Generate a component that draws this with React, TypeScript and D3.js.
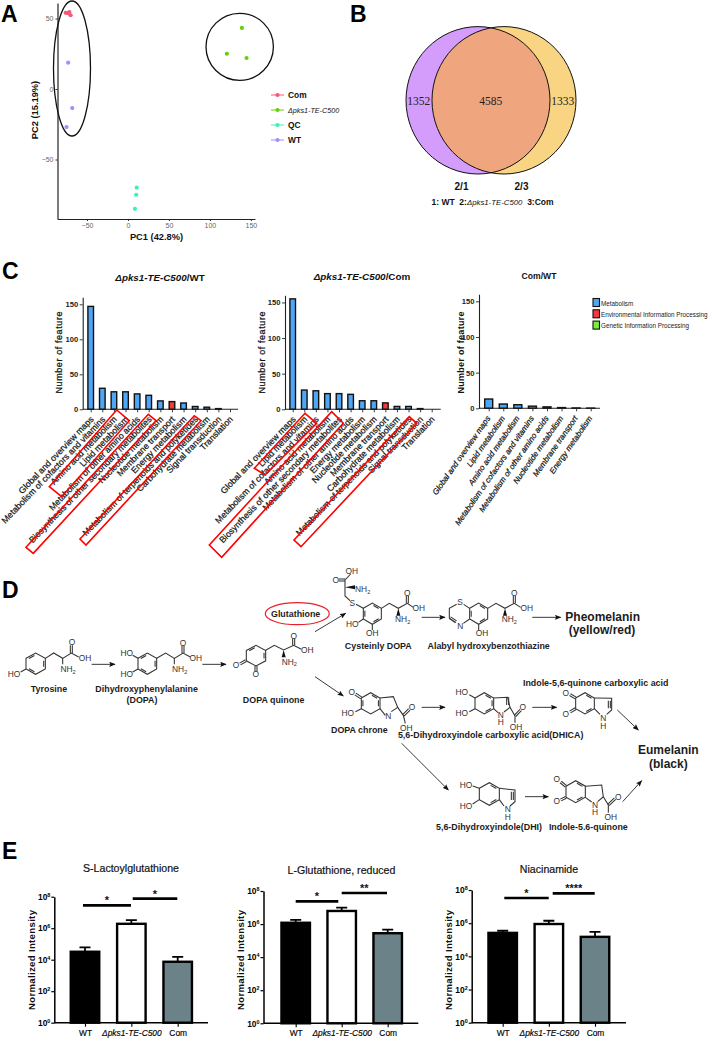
import React, { useEffect, useRef } from 'react';
import * as d3 from 'd3';

const SANS = '"Liberation Sans", Arial, sans-serif';
const SERIF = '"Liberation Serif", serif';
const MUTANT = 'Δpks1-TE-C500';

// panel A
const comPC1 = [-76, -71.5, -70, -73];
const comPC2 = [54, 54.6, 52.3, 53.8];
const mutPC1 = [139, 120.7, 144.7];
const mutPC2 = [43.3, 25, 22];
const qcPC1 = [10.6, 10, 8.5];
const qcPC2 = [-70, -75, -85];
const wtPC1 = [-73, -68, -75];
const wtPC2 = [18.7, -13.5, -27];
const pcaGroups = ['Com', MUTANT, 'QC', 'WT'];
const pcaColors = ['#F9567A', '#69CF0C', '#3CF2AC', '#A88CFB'];

// panel B
const vennCounts = [1352, 4585, 1333];

// panel C
const labels1 = ['Global and overview maps', 'Metabolism of cofactors and vitamins', 'Amino acid metabolism', 'Lipid metabolism', 'Metabolism of other amino acids', 'Biosynthesis of other secondary metabolites', 'Nucleotide metabolism', 'Membrane transport', 'Energy metabolism', 'Metabolism of terpenoids and polyketides', 'Carbohydrate metabolism', 'Signal transduction', 'Translation'];
const values1 = [147, 30, 25, 25, 22, 20, 12, 11, 9, 4, 3, 1, 0];
const labels2 = ['Global and overview maps', 'Lipid metabolism', 'Metabolism of cofactors and vitamins', 'Amino acid metabolism', 'Biosynthesis of other secondary metabolites', 'Metabolism of other amino acids', 'Energy metabolism', 'Nucleotide metabolism', 'Membrane transport', 'Carbohydrate metabolism', 'Metabolism of terpenoids and polyketides', 'Signal transduction', 'Translation'];
const values2 = [155, 27, 26, 22, 22, 21, 12, 12, 9, 4, 4, 1, 0];
const labels3 = ['Global and overview maps', 'Lipid metabolism', 'Amino acid metabolism', 'Metabolism of cofactors and vitamins', 'Metabolism of other amino acids', 'Nucleotide metabolism', 'Membrane transport', 'Energy metabolism'];
const values3 = [13, 6, 5, 3, 2, 1, 0.5, 0.3];
const keggClasses = ['Metabolism', 'Environmental Information Processing', 'Genetic Information Processing'];
const keggColors = ['#4FA6F5', '#F43A3A', '#76EE3A'];

// red boxes round the highlighted pathway labels
const boxes1 = [
  [[49.3, 486.7], [116.7, 410], [129.3, 420.7], [61.7, 496.7]],
  [[26, 547.3], [148.3, 414.3], [156, 420.7], [33.3, 553.3]],
  [[80, 539], [194.3, 415.7], [201, 420.7], [86, 545]],
];
const boxes2 = [
  [[254.3, 468.3], [305, 413.3], [316.7, 423.3], [265, 475]],
  [[209.3, 545], [331.7, 411.7], [343.3, 423.3], [221.7, 557.3]],
  [[294, 540], [409.3, 416.7], [416.7, 423.3], [301, 546.7]],
];

// panel E
const strains = ['WT', MUTANT, 'Com'];
const strainFill = ['#000', '#fff', '#6B8288'];
const lactoyl = [3.2e4, 1.9e6, 7.4e3];
const lactoylErr = [6e4, 3.3e6, 1.5e4];
const glutathione = [1.2e6, 6.2e6, 2.8e5];
const glutathioneErr = [1.8e6, 1e7, 4.6e5];
const niacinamide = [2.6e5, 8.9e5, 1.5e5];
const niacinamideErr = [3.5e5, 1.4e6, 3e5];

// panel D, structure drawings, in 3x crop units from the two origins
const hex = (cx: number, cy: number, w: number, h: number) => [
  [cx - w, cy - h / 2], [cx, cy - h], [cx + w, cy - h / 2], [cx + w, cy + h / 2], [cx, cy + h], [cx - w, cy + h / 2],
];
const O1 = [0, 570];
const O2 = [330, 570];
const molecules: any[] = [
  { o: O1, ring: hex(107, 281, 29, 32), dbl: [0, 2, 4],
    bonds: [[78, 297, 62, 306], [136, 265, 161, 249, 188, 265, 214, 249, 236, 261], [188, 265, 188, 283]],
    doubles: [[214, 249, 214, 226]],
    labels: [['HO', 42, 312], ['NH2', 204, 297], ['O', 216, 217], ['OH', 255, 264]] },
  { o: O1, ring: hex(442, 281, 28, 32), dbl: [0, 2, 4],
    bonds: [[414, 265, 398, 256], [414, 297, 398, 306], [470, 265, 497, 249, 523, 265, 549, 249, 571, 261], [523, 265, 523, 283]],
    doubles: [[549, 249, 549, 227]],
    labels: [['HO', 380, 250], ['HO', 380, 312], ['NH2', 539, 297], ['O', 549, 219], ['OH', 587, 264]] },
  { o: O1, ring: hex(768, 257, 29, 31), dbl: [0, 2],
    bonds: [[797, 241, 823, 226, 851, 240, 881, 226, 904, 238]],
    doubles: [[881, 226, 881, 206], [738, 272, 720, 282], [768, 288, 768, 304]],
    wedges: [[851, 240, 851, 262]],
    labels: [['O', 708, 285], ['O', 767, 313], ['NH2', 868, 275], ['O', 881, 198], ['OH', 922, 241]] },
  { o: O2, ring: hex(127, 131, 27, 32), dbl: [1, 3, 5],
    bonds: [[100, 115, 78, 103], [60, 92, 45, 78, 45, 62, 45, 30, 62, 12], [154, 115, 178, 100, 205, 115, 232, 100, 250, 112], [100, 147, 85, 157], [127, 163, 127, 180]],
    doubles: [[232, 100, 232, 78], [45, 30, 26, 30]],
    wedges: [[205, 115, 205, 137], [45, 52, 75, 52]],
    labels: [['S', 67, 100], ['NH2', 98, 57], ['O', 17, 30], ['OH', 65, 2], ['NH2', 218, 148], ['O', 232, 69], ['OH', 266, 115], ['HO', 67, 162], ['OH', 127, 190]] },
  { o: O2, ring: hex(446, 131, 27, 32), dbl: [1, 3, 5],
    bonds: [[419, 115, 401, 103], [380, 103, 358, 115, 358, 145, 378, 158], [400, 160, 419, 147], [473, 115, 498, 100, 525, 115, 553, 100, 572, 112], [446, 163, 446, 180]],
    doubles: [[553, 100, 553, 78], [360, 143, 378, 155]],
    wedges: [[525, 115, 525, 137]],
    labels: [['S', 390, 95], ['N', 391, 168], ['OH', 456, 190], ['NH2', 538, 147], ['O', 553, 69], ['OH', 590, 115]] },
  { o: O2, ring: hex(122, 400, 28, 32), dbl: [1, 2, 5],
    bonds: [[150, 384, 190, 380, 203, 412, 184, 425], [166, 436, 150, 416], [94, 416, 76, 425], [203, 412, 220, 436, 226, 460]],
    doubles: [[94, 384, 76, 372], [220, 436, 238, 418]],
    labels: [['O', 65, 365], ['HO', 53, 428], ['N', 175, 438], ['O', 246, 412], ['OH', 229, 473]] },
  { o: O2, ring: hex(463, 400, 28, 32), dbl: [1, 3, 2],
    bonds: [[435, 384, 418, 374], [435, 416, 418, 425], [491, 384, 533, 382, 540, 412, 522, 426], [504, 428, 491, 416], [540, 412, 555, 438, 555, 458]],
    doubles: [[533, 382, 533, 405], [555, 438, 572, 420]],
    labels: [['HO', 395, 365], ['HO', 395, 428], ['N', 512, 434], ['H', 512, 455], ['O', 578, 410], ['OH', 558, 470]] },
  { o: O2, ring: hex(765, 400, 28, 32), dbl: [1, 3],
    bonds: [[793, 384, 845, 385, 845, 420, 830, 433], [810, 433, 793, 416]],
    doubles: [[737, 384, 720, 374], [737, 416, 720, 426], [838, 392, 838, 415]],
    labels: [['O', 707, 368], ['O', 707, 432], ['N', 820, 445], ['H', 820, 467]] },
  { o: O2, ring: hex(478, 672, 30, 34), dbl: [1, 3],
    bonds: [[448, 655, 428, 648], [448, 689, 428, 702], [508, 655, 555, 660, 555, 695, 540, 708], [522, 708, 508, 689]],
    doubles: [[547, 665, 547, 690]],
    labels: [['HO', 408, 645], ['HO', 408, 708], ['N', 533, 718], ['H', 533, 740]] },
  { o: O2, ring: hex(737, 665, 29, 33), dbl: [1, 3],
    bonds: [[766, 649, 815, 645, 820, 680, 803, 695], [785, 696, 766, 682], [820, 680, 835, 705, 835, 728]],
    doubles: [[708, 649, 692, 636], [708, 682, 692, 690], [835, 705, 855, 686]],
    labels: [['O', 680, 628], ['O', 680, 693], ['N', 795, 706], ['H', 795, 727], ['O', 865, 680], ['OH', 842, 742]] },
];
const pathArrows: any[] = [
  [O1, 275, 283, 345, 283], [O1, 607, 283, 678, 283], [O1, 945, 185, 1037, 130], [O1, 945, 320, 1030, 378],
  [O2, 275, 142, 345, 142], [O2, 607, 142, 692, 142], [O2, 275, 412, 345, 412], [O2, 607, 412, 680, 412],
  [O2, 215, 520, 355, 660], [O2, 862, 420, 925, 480], [O2, 585, 680, 655, 680], [O2, 878, 695, 935, 632],
];
const pathNames: any[] = [
  [O1, 'Tyrosine', 147, 366, 8.9], [O1, 'Dihydroxyphenylalanine', 440, 366, 8.9], [O1, '(DOPA)', 426, 399, 8.9],
  [O1, 'DOPA quinone', 821, 398, 8.9], [O1, 'Glutathione', 887, 142, 8.9],
  [O2, 'Cysteinly DOPA', 145, 238, 8.9], [O2, 'Alabyl hydroxybenzothiazine', 476, 238, 8.9],
  [O2, 'Pheomelanin', 818, 153, 12], [O2, '(yellow/red)', 816, 191, 12],
  [O2, 'Indole-5,6-quinone carboxylic acid', 797, 348, 8.9], [O2, 'DOPA chrone', 88, 488, 8.9],
  [O2, '5,6-Dihydroxyindole carboxylic acid(DHICA)', 482, 503, 8.9],
  [O2, 'Eumelanin', 1015, 553, 12], [O2, '(black)', 1015, 593, 12],
  [O2, '5,6-Dihydroxyindole(DHI)', 477, 781, 8.9], [O2, 'Indole-5.6-quinone', 775, 781, 8.9],
];

function text(g: any, x: number, y: number, s: string, size: number, opts: any = {}) {
  return g.append('text')
    .attr('x', x).attr('y', y)
    .attr('font-family', opts.family || SANS)
    .attr('font-size', size)
    .attr('font-weight', opts.weight || 'normal')
    .attr('font-style', opts.italic ? 'italic' : 'normal')
    .attr('text-anchor', opts.anchor || 'middle')
    .attr('fill', opts.fill || '#111')
    .text(s);
}

function styleAxis(g: any, width: number, size: number, color = '#222') {
  g.selectAll('path.domain').attr('stroke', color).attr('stroke-width', width);
  g.selectAll('.tick line').attr('stroke', color).attr('stroke-width', width * 0.8);
  g.selectAll('.tick text').attr('font-family', SANS).attr('font-size', size).attr('fill', color);
}

function drawPCA(svg: any) {
  const g = svg.append('g');
  const x = d3.scaleLinear().domain([-86, 155]).range([57.5, 255]);
  const y = d3.scaleLinear().domain([-92.2, 61]).range([219, 3]);
  const ax = g.append('g').attr('transform', 'translate(0,219)')
    .call(d3.axisBottom(x).tickValues([-50, 0, 50, 100, 150]).tickSize(2).tickPadding(2).tickSizeOuter(0));
  styleAxis(ax, 1.2, 7);
  const ay = g.append('g').attr('transform', 'translate(57.5,0)')
    .call(d3.axisLeft(y).tickValues([-50, 0, 50]).tickSize(2).tickPadding(2).tickSizeOuter(0));
  styleAxis(ay, 1.2, 7);
  ax.selectAll('.tick text').attr('fill', '#666');
  ay.selectAll('.tick text').attr('fill', '#666');
  text(g, 156.5, 240, 'PC1 (42.8%)', 9.3, { weight: 'bold' });
  text(g, 0, 0, 'PC2 (15.19%)', 9.3, { weight: 'bold' }).attr('transform', 'translate(38,110) rotate(-90)');

  const sets = [[comPC1, comPC2], [mutPC1, mutPC2], [qcPC1, qcPC2], [wtPC1, wtPC2]];
  sets.forEach(([xs, ys], k) => {
    g.selectAll(null).data(xs).enter().append('circle')
      .attr('cx', (d: number) => x(d))
      .attr('cy', (_: number, i: number) => y(ys[i]))
      .attr('r', 2.1)
      .attr('fill', pcaColors[k]);
    const ly = 95 + k * 15;
    g.append('line').attr('x1', 271).attr('x2', 284).attr('y1', ly).attr('y2', ly).attr('stroke', pcaColors[k]).attr('stroke-width', 1);
    g.append('circle').attr('cx', 277.5).attr('cy', ly).attr('r', 2.1).attr('fill', pcaColors[k]);
    const mut = pcaGroups[k] === MUTANT;
    text(g, 288, ly + 3, pcaGroups[k], mut ? 7.2 : 8.4, { anchor: 'start', weight: mut ? 'normal' : 'bold', italic: mut });
  });
  g.append('ellipse').attr('cx', 72).attr('cy', 68.5).attr('rx', 18.5).attr('ry', 67.5)
    .attr('fill', 'none').attr('stroke', '#111').attr('stroke-width', 1.3);
  g.append('ellipse').attr('cx', 239.7).attr('cy', 46.8).attr('rx', 33.7).attr('ry', 33.5)
    .attr('fill', 'none').attr('stroke', '#111').attr('stroke-width', 1.3);
}

function drawVenn(svg: any) {
  const g = svg.append('g');
  const defs = g.append('defs');
  defs.append('clipPath').attr('id', 'vennLeft').append('ellipse')
    .attr('cx', 478).attr('cy', 100.3).attr('rx', 72).attr('ry', 73.7);
  g.append('ellipse').attr('cx', 478).attr('cy', 100.3).attr('rx', 72).attr('ry', 73.7).attr('fill', '#D49CFB');
  g.append('ellipse').attr('cx', 504).attr('cy', 100.3).attr('rx', 72).attr('ry', 73.7).attr('fill', '#F9D583');
  g.append('ellipse').attr('cx', 504).attr('cy', 100.3).attr('rx', 72).attr('ry', 73.7)
    .attr('fill', '#EFA67F').attr('clip-path', 'url(#vennLeft)');
  [478, 504].forEach(cx => {
    g.append('ellipse').attr('cx', cx).attr('cy', 100.3).attr('rx', 72).attr('ry', 73.7)
      .attr('fill', 'none').attr('stroke', '#111').attr('stroke-width', 1);
  });
  [418.7, 490.7, 562.7].forEach((x, i) => {
    text(g, x, 105, String(vennCounts[i]), 11.5, { family: SERIF, fill: '#222' });
  });
  text(g, 461.5, 190, '2/1', 10, { weight: 'bold' });
  text(g, 521.5, 190, '2/3', 10, { weight: 'bold' });
  const t = text(g, 431.5, 205, '1: WT  2:', 8.5, { anchor: 'start', weight: 'bold' }).attr('xml:space', 'preserve');
  t.append('tspan').attr('font-style', 'italic').attr('font-weight', 'normal').attr('font-size', 7.8).text(MUTANT);
  t.append('tspan').text('  3:Com');
}

function drawFeatureBars(svg: any, o: any) {
  const g = svg.append('g');
  const x = d3.scalePoint().domain(o.labels).range(o.xRange);
  const y = d3.scaleLinear().domain([0, o.yMax]).range([o.base, o.top]);

  g.selectAll(null).data(o.values).enter().append('rect')
    .attr('x', (_: number, i: number) => x(o.labels[i])! - o.barW / 2)
    .attr('y', (d: number) => y(d))
    .attr('width', o.barW)
    .attr('height', (d: number) => o.base - y(d))
    .attr('fill', (_: number, i: number) => keggColors[o.labels[i] === 'Membrane transport' && !o.noRed ? 1 : 0])
    .attr('stroke', '#111')
    .attr('stroke-width', 1.4);

  const ax = g.append('g').attr('transform', `translate(0,${o.base})`)
    .call(d3.axisBottom(x).tickSize(3).tickFormat(() => '').tickSizeOuter(0));
  ax.select('path.domain').attr('d', `M${o.yAxisX},0H${o.xEnd}`);
  styleAxis(ax, 1.1, 7);
  const ay = g.append('g').attr('transform', `translate(${o.yAxisX},0)`)
    .call(d3.axisLeft(y).tickValues([0, 50, 100, 150]).tickSize(3).tickPadding(1.5).tickSizeOuter(0));
  styleAxis(ay, 1.1, 7.6);
  ay.selectAll('.tick text').attr('font-weight', 'bold');

  o.labels.forEach((l: string) => {
    text(g, 0, 0, l, o.labelSize, { anchor: 'end', italic: o.labelItalic })
      .attr('transform', `translate(${x(l)! + o.labelDx},${o.base + o.labelDy}) rotate(${o.angle})`)
      .attr('stroke', '#111').attr('stroke-width', 0.22);
  });
  (o.boxes || []).forEach((b: number[][]) => {
    g.append('path').attr('d', d3.line()(b as any) + 'Z')
      .attr('fill', 'none').attr('stroke', '#F00').attr('stroke-width', 1.6);
  });
  text(g, 0, 0, 'Number of feature', 9, { weight: o.yLabelBold ? 'bold' : 'normal' })
    .attr('transform', `translate(${o.yLabelX},352.5) rotate(-90)`)
    .attr('textLength', 82)
    .attr('stroke', '#111').attr('stroke-width', o.yLabelBold ? 0 : 0.25);
  const t = text(g, o.titleX, o.titleY, o.mutantTitle ? MUTANT : o.title, o.titleSize, { weight: 'bold', italic: o.mutantTitle });
  if (o.mutantTitle) t.append('tspan').attr('font-style', 'normal').text(o.title);
}

function drawKeggLegend(svg: any) {
  const g = svg.append('g');
  keggClasses.forEach((c, i) => {
    const y = 298.5 + i * 11.3;
    g.append('rect').attr('x', 593).attr('y', y).attr('width', 6.5).attr('height', 8)
      .attr('fill', keggColors[i]).attr('stroke', '#111').attr('stroke-width', 1.1);
    // the reference squeezes these labels sideways
    text(g, 0, 0, c, 8, { anchor: 'start', fill: '#222' })
      .attr('transform', `translate(601,${y + 7}) scale(0.79,1)`);
  });
}

function drawMolecule(g: any, m: any) {
  const [ox, oy] = m.o;
  const mg = g.append('g').attr('transform', `translate(${ox},${oy}) scale(${1 / 3})`)
    .attr('fill', 'none').attr('stroke', '#333').attr('stroke-width', 3.2);
  const ring = m.ring;
  const cx = d3.mean(ring, (p: number[]) => p[0])!;
  const cy = d3.mean(ring, (p: number[]) => p[1])!;
  mg.append('path').attr('d', d3.line()(ring) + 'Z');
  (m.dbl || []).forEach((e: number) => {
    const a = ring[e];
    const b = ring[(e + 1) % 6];
    const k = 0.17;
    const s = 0.16;
    const p = [a[0] + (cx - a[0]) * k, a[1] + (cy - a[1]) * k];
    const q = [b[0] + (cx - b[0]) * k, b[1] + (cy - b[1]) * k];
    mg.append('line')
      .attr('x1', p[0] + (q[0] - p[0]) * s).attr('y1', p[1] + (q[1] - p[1]) * s)
      .attr('x2', q[0] - (q[0] - p[0]) * s).attr('y2', q[1] - (q[1] - p[1]) * s);
  });
  (m.bonds || []).forEach((b: number[]) => {
    const pts = d3.range(0, b.length, 2).map(i => [b[i], b[i + 1]]);
    mg.append('path').attr('d', d3.line()(pts as any));
  });
  (m.doubles || []).forEach((b: number[]) => {
    const dx = b[2] - b[0];
    const dy = b[3] - b[1];
    const len = Math.hypot(dx, dy);
    const nx = (-dy / len) * 3;
    const ny = (dx / len) * 3;
    [1, -1].forEach(sign => {
      mg.append('line')
        .attr('x1', b[0] + sign * nx).attr('y1', b[1] + sign * ny)
        .attr('x2', b[2] + sign * nx).attr('y2', b[3] + sign * ny);
    });
  });
  (m.wedges || []).forEach((b: number[]) => {
    const dx = b[2] - b[0];
    const dy = b[3] - b[1];
    const len = Math.hypot(dx, dy);
    const nx = (-dy / len) * 6;
    const ny = (dx / len) * 6;
    mg.append('path')
      .attr('d', `M${b[0]},${b[1]}L${b[2] + nx},${b[3] + ny}L${b[2] - nx},${b[3] - ny}Z`)
      .attr('fill', '#111').attr('stroke', 'none');
  });
  (m.labels || []).forEach((l: any[]) => {
    const sub = l[0] === 'NH2';
    const t = text(g, ox + l[1] / 3, oy + l[2] / 3 + 3, sub ? 'NH' : l[0], 8.4, { fill: '#333' });
    if (sub) t.append('tspan').attr('dy', 1.6).attr('font-size', 5.6).text('2');
  });
}

function drawPathway(svg: any) {
  const g = svg.append('g');
  const defs = g.append('defs');
  defs.append('marker').attr('id', 'arrowHead').attr('viewBox', '0 0 10 8').attr('refX', 9).attr('refY', 4)
    .attr('markerWidth', 6.5).attr('markerHeight', 5.5).attr('markerUnits', 'userSpaceOnUse').attr('orient', 'auto')
    .append('path').attr('d', 'M0,0L10,4L0,8L2,4Z').attr('fill', '#111');
  molecules.forEach(m => drawMolecule(g, m));
  pathArrows.forEach(([o, x1, y1, x2, y2]) => {
    g.append('line')
      .attr('x1', o[0] + x1 / 3).attr('y1', o[1] + y1 / 3)
      .attr('x2', o[0] + x2 / 3).attr('y2', o[1] + y2 / 3)
      .attr('stroke', '#222').attr('stroke-width', 0.9).attr('marker-end', 'url(#arrowHead)');
  });
  g.append('ellipse').attr('cx', 297.3).attr('cy', 613.7).attr('rx', 32).attr('ry', 11)
    .attr('fill', 'none').attr('stroke', '#E8202A').attr('stroke-width', 1.2);
  pathNames.forEach(([o, s, x, y, size]) => {
    text(g, o[0] + x / 3, o[1] + y / 3, s, size, { weight: 'bold', fill: '#1c1c1c' });
  });
}

function drawIntensity(svg: any, o: any) {
  const g = svg.append('g');
  const x = d3.scalePoint().domain(strains).range(o.xRange);
  const y = d3.scaleLog().domain([1, 1e8]).range([o.base, o.top]);
  const w = 28.5;

  g.selectAll(null).data(o.errs).enter().append('path')
    .attr('d', (d: number, i: number) => {
      const c = x(strains[i])!;
      return `M${c},${y(o.values[i])}V${y(d)}M${c - 5.5},${y(d)}H${c + 5.5}`;
    })
    .attr('fill', 'none').attr('stroke', '#000').attr('stroke-width', 1.8);
  g.selectAll(null).data(o.values).enter().append('rect')
    .attr('x', (_: number, i: number) => x(strains[i])! - w / 2)
    .attr('y', (d: number) => y(d))
    .attr('width', w)
    .attr('height', (d: number) => o.base - y(d))
    .attr('fill', (_: number, i: number) => strainFill[i])
    .attr('stroke', '#000').attr('stroke-width', 2.4);

  const ax = g.append('g').attr('transform', `translate(0,${o.base})`)
    .call(d3.axisBottom(x).tickSize(4).tickPadding(3).tickSizeOuter(0));
  ax.select('path.domain').attr('d', `M${o.axisX},0H${o.xEnd}`);
  styleAxis(ax, 1.4, 8.4, '#000');
  ax.selectAll('.tick text').attr('font-style', (d: string) => (d === MUTANT ? 'italic' : 'normal'))
    .attr('stroke', '#000').attr('stroke-width', 0.15);
  const ay = g.append('g').attr('transform', `translate(${o.axisX},0)`)
    .call(d3.axisLeft(y).tickValues([1, 1e2, 1e4, 1e6, 1e8]).tickSize(3).tickPadding(1).tickFormat(() => '').tickSizeOuter(0));
  styleAxis(ay, 1.5, 8.4, '#000');
  ay.selectAll('.tick text').each(function (this: any, d: any) {
    const t = d3.select(this).attr('font-weight', 'bold');
    t.append('tspan').text('10');
    t.append('tspan').attr('dy', -3).attr('font-size', 5.4).text(String(Math.round(Math.log10(d))));
  });

  text(g, 0, 0, 'Normalized Intensity', 9.6, { weight: 'bold' })
    .attr('transform', `translate(${o.yLabelX},960) rotate(-90)`)
    .attr('textLength', 100);
  text(g, o.titleX, o.titleY, o.title, 10.6, { fill: '#111' }).attr('stroke', '#111').attr('stroke-width', 0.2);
  o.sig.forEach((s: any[]) => {
    g.append('line').attr('x1', s[0]).attr('x2', s[1]).attr('y1', s[2]).attr('y2', s[2])
      .attr('stroke', '#000').attr('stroke-width', 2.7);
    text(g, (s[0] + s[1]) / 2, s[2] - 1, s[3], 11, { weight: 'bold' });
  });
}

export default function App() {
  const ref = useRef<SVGSVGElement>(null);

  useEffect(() => {
    const svg = d3.select(ref.current);
    svg.selectAll('*').remove();

    [['A', 1, 22], ['B', 350, 22], ['C', 2, 279], ['D', 2, 598], ['E', 2, 859]].forEach(([s, x, y]) => {
      text(svg, x as number, y as number, s as string, 23, { anchor: 'start', weight: 'bold', fill: '#000' });
    });

    drawPCA(svg);
    drawVenn(svg);

    drawFeatureBars(svg, {
      labels: labels1, values: values1, xRange: [90.7, 230], base: 409.3, top: 297.3, yMax: 160,
      yAxisX: 82.7, xEnd: 238, barW: 5.6, labelSize: 8.8, labelDx: 3.5, labelDy: 10.5, angle: -46, boxes: boxes1,
      yLabelX: 62, titleX: 160, titleY: 281, titleSize: 9.8, mutantTitle: true, title: '/WT',
    });
    drawFeatureBars(svg, {
      labels: labels2, values: values2, xRange: [292.7, 431.7], base: 409.3, top: 295.3, yMax: 160,
      yAxisX: 285, xEnd: 440.7, barW: 5.6, labelSize: 8.8, labelDx: 3.5, labelDy: 10.5, angle: -46, boxes: boxes2,
      yLabelX: 265, titleX: 362, titleY: 279.5, titleSize: 9.9, mutantTitle: true, title: '/Com',
    });
    drawFeatureBars(svg, {
      labels: labels3, values: values3, xRange: [488.7, 590.7], base: 408.3, top: 294.2, yMax: 160,
      yAxisX: 479, xEnd: 600, barW: 8, labelSize: 8, labelDx: 2, labelDy: 10, labelItalic: true, angle: -55, noRed: true,
      yLabelX: 464, yLabelBold: true, titleX: 539, titleY: 279, titleSize: 8.6, title: 'Com/WT',
    });
    drawKeggLegend(svg);

    drawPathway(svg);

    drawIntensity(svg, {
      values: lactoyl, errs: lactoylErr, xRange: [85, 177.7], base: 1022.7, top: 896.7, axisX: 54.3, xEnd: 208,
      yLabelX: 35, title: 'S-Lactoylglutathione', titleX: 131, titleY: 872,
      sig: [[83, 131, 905.3, '*'], [132.7, 177.3, 898.7, '*']],
    });
    drawIntensity(svg, {
      values: glutathione, errs: glutathioneErr, xRange: [295.7, 387.7], base: 1023.3, top: 891, axisX: 263.5, xEnd: 418.3,
      yLabelX: 244, title: 'L-Glutathione, reduced', titleX: 341.5, titleY: 874,
      sig: [[295.7, 338.3, 901.3, '*'], [341.7, 387, 893, '**']],
    });
    drawIntensity(svg, {
      values: niacinamide, errs: niacinamideErr, xRange: [502.7, 595], base: 1022.7, top: 890, axisX: 471.7, xEnd: 626,
      yLabelX: 452, title: 'Niacinamide', titleX: 549, titleY: 873,
      sig: [[504.3, 548.7, 898, '*'], [552.7, 594.7, 893.3, '****']],
    });
  }, []);

  return (
    <svg ref={ref} width={712} height={1043} style={{ position: 'absolute', left: 0, top: 0, background: '#fff', opacity: 0.999 }} />
  );
}
